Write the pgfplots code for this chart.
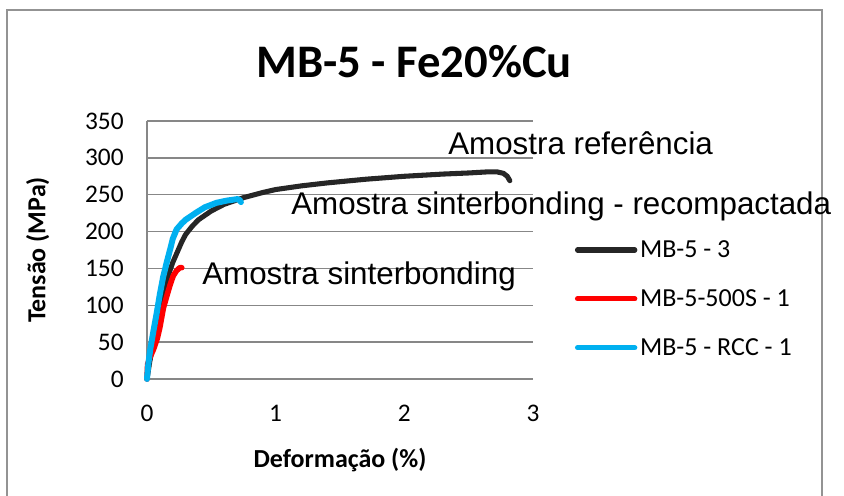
\documentclass[border=0pt]{standalone}
\usepackage{fontspec}
\setmainfont{Carlito}
\newfontfamily\arial{Liberation Sans}
\usepackage{pgfplots}
\pgfplotsset{compat=1.18}
\definecolor{cblack}{HTML}{262626}
\definecolor{cred}{HTML}{FF0000}
\definecolor{cblue}{HTML}{00B0F0}
\definecolor{cgrid}{HTML}{878787}
\begin{document}
\begin{tikzpicture}[x=0.75pt,y=0.75pt]
\path[use as bounding box] (0,0) rectangle (844,496);
\draw[cgrid!90, line width=1.5pt] (7,-10) -- (7,486) -- (822,486) -- (822,-10);
\begin{axis}[
  at={(110.25pt,87.75pt)}, anchor=south west,
  scale only axis, width=289.5pt, height=193.5pt,
  xmin=0, xmax=3, ymin=0, ymax=350,
  xtick={0,1,2,3}, ytick={0,50,...,350},
  axis x line*=bottom, axis y line*=left,
  axis line style={cgrid, line width=1.1pt, -},
  major tick length=0pt,
  ymajorgrids, grid style={cgrid, line width=1.1pt},
  tick label style={font=\fontsize{19}{22}\selectfont},
  /pgf/number format/assume math mode=true,
  xticklabel style={yshift=-16pt},
  yticklabel style={xshift=-14pt},
  xlabel={\bfseries Deformação (\%)},
  ylabel={\bfseries Tensão (MPa)},
  label style={font=\fontsize{19.5}{22}\selectfont},
  xlabel style={yshift=-13pt},
  ylabel style={yshift=20pt},
  legend style={at={(1.108,0.548)}, anchor=north west, draw=none, fill=none,
    font=\fontsize{19.5}{22}\selectfont, row sep=18.5pt, inner sep=0pt,
    cells={anchor=west}},
  legend image code/.code={\draw[#1, line width=3.8pt, line cap=round] (0pt,0pt) -- (43pt,0pt);},
  clip=false,
]
\addplot[cblack, line width=3.8pt, line cap=round, line join=round] coordinates {
(0,0) (0.02,22) (0.05,50) (0.08,78) (0.1,100) (0.13,122) (0.17,143) (0.2,158) (0.23,170) (0.27,186) (0.3,196) (0.35,207) (0.4,216) (0.5,228) (0.6,237) (0.75,246) (0.9,253) (1.0,257) (1.2,262) (1.4,266) (1.7,271) (2.0,275) (2.3,278) (2.5,279.5) (2.65,281) (2.72,281) (2.77,279) (2.8,275) (2.82,269)
};
\addlegendentry{MB-5 - 3}
\addplot[cred, line width=4.2pt, line cap=round, line join=round] coordinates {
(0,0) (0.005,20) (0.02,28) (0.05,40) (0.08,55) (0.1,70) (0.127,96) (0.153,112) (0.18,128) (0.204,140) (0.23,147) (0.255,151) (0.27,151)
};
\addlegendentry{MB-5-500S - 1}
\addplot[cblue, line width=4.5pt, line cap=round, line join=round] coordinates {
(0,0) (0.01,20) (0.025,40) (0.05,65) (0.075,89) (0.1,115) (0.125,138) (0.153,158) (0.18,176) (0.2,190) (0.23,203) (0.27,211) (0.3,216) (0.385,226) (0.45,233) (0.54,239) (0.62,242) (0.7,244) (0.72,243) (0.73,240)
};
\addlegendentry{MB-5 - RCC - 1}
\end{axis}
\node[font=\fontsize{35}{40}\selectfont\bfseries] at (414,434) {MB-5 - Fe20\%Cu};
\node[font=\arial\fontsize{23.5}{28}\selectfont, anchor=base west, inner sep=0pt] at (448,341) {Amostra referência};
\node[font=\arial\fontsize{23.5}{28}\selectfont, anchor=base west, inner sep=0pt] at (291,281) {Amostra sinterbonding - recompactada};
\node[font=\arial\fontsize{23.5}{28}\selectfont, anchor=base west, inner sep=0pt] at (202,211) {Amostra sinterbonding};
\end{tikzpicture}
\end{document}
